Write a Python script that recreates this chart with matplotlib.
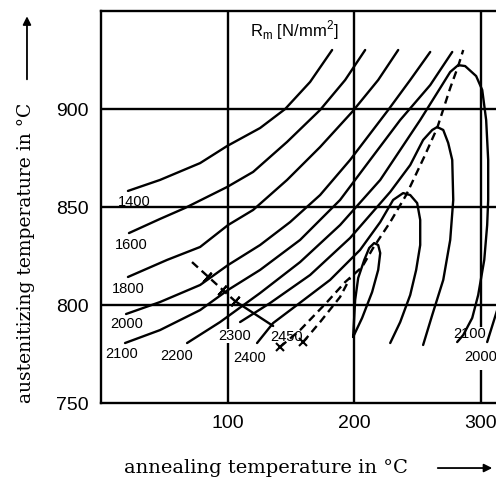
import matplotlib.pyplot as plt

# ── Isolines of tensile strength Rm [N/mm²] ───────────────────────────────────
# annealing temperature (x, °C) / austenitizing temperature (y, °C)
rm1400_x = [21.3, 46.6, 78.3, 99.6, 125.7, 145.5, 165.2, 182.6]
rm1400_y = [858.2, 863.8, 872.4, 881.1, 890.3, 900.0, 913.8, 930.1]

rm1600_x = [22.1, 46.6, 66.4, 99.6, 120.2, 147.0, 173.1, 192.9, 208.7]
rm1600_y = [836.7, 843.9, 849.5, 860.2, 867.9, 883.2, 899.5, 914.8, 930.1]

rm1800_x = [21.3, 52.2, 78.3, 100.4, 120.2, 147.0, 173.1, 198.4, 219.0, 234.8]
rm1800_y = [814.3, 823.0, 829.6, 840.8, 848.5, 863.8, 880.6, 898.5, 914.8, 930.1]

rm2000_x = [19.8, 46.6, 78.3, 100.4, 125.7, 149.4, 173.1, 196.8, 226.9, 244.3, 260.1]
rm2000_y = [795.4, 801.5, 810.2, 820.4, 830.6, 842.3, 856.1, 874.0, 899.5, 914.8, 929.1]

rm2100_x = [19.0, 46.6, 78.3, 100.4, 125.7, 157.3, 188.9, 212.6, 236.4, 260.1, 277.5]
rm2100_y = [780.6, 787.2, 797.4, 807.7, 817.9, 833.2, 853.6, 874.0, 894.4, 912.2, 929.1]

rm2200_x = [68.0, 94.1, 125.7, 157.3, 188.9, 220.6, 252.2, 268.0, 275.9, 282.2, 287.7,
            296.4, 301.2, 304.3, 305.9, 305.9, 305.1, 302.8, 298.0, 293.3, 286.2, 281.4]
rm2200_y = [780.6, 791.3, 806.1, 821.9, 840.8, 863.8, 894.4, 910.7, 918.9, 922.4, 921.9,
            916.8, 909.7, 894.4, 874.0, 853.6, 840.8, 823.0, 805.1, 793.4, 784.7, 781.1]

rm2300_x = [109.9, 133.6, 165.2, 196.8, 228.5, 244.3, 254.5, 261.7, 265.6, 270.4, 274.3,
            277.5, 278.3, 275.9, 270.4, 261.7, 254.5]
rm2300_y = [791.3, 801.0, 815.3, 834.2, 857.7, 871.4, 884.2, 889.3, 890.8, 889.3, 882.7,
            874.0, 853.6, 833.2, 812.8, 794.9, 779.6]

rm2400_x = [123.3, 136.0, 154.9, 181.0, 204.7, 220.6, 230.8, 238.7, 244.3, 249.8, 252.2,
            252.2, 249.0, 244.3, 236.4, 228.5]
rm2400_y = [780.6, 790.8, 800.0, 812.8, 828.1, 842.3, 853.6, 857.1, 856.1, 852.0, 843.4,
            830.6, 817.9, 805.1, 791.3, 780.6]

rm2450_x = [199.2, 200.8, 203.2, 208.0, 211.9, 215.8, 219.0, 220.6, 219.0, 214.2, 206.3, 199.2]
rm2450_y = [783.7, 802.6, 813.8, 823.0, 829.1, 831.6, 830.6, 826.5, 817.9, 806.6, 793.4, 783.7]

# right-hand branch of 2100 coming in from beyond the frame
rm2100r_x = [305.1, 313.0, 323.3, 331.2]
rm2100r_y = [781.1, 797.4, 828.1, 879.1]

# ridge (maximum) line, dashed
ridge_x = [141.5, 157.3, 178.6, 192.9, 206.3, 215.0, 228.5, 241.1, 255.3, 265.6, 275.9, 282.2, 286.2]
ridge_y = [778.6, 787.2, 801.5, 811.7, 819.4, 829.1, 842.3, 856.1, 875.5, 890.3, 910.7, 921.9, 930.1]

ridge2_x = [159.7, 173.1, 188.9, 196.8]
ridge2_y = [781.1, 791.3, 804.1, 813.8]
ridge_marks_x = [141.5, 159.7]
ridge_marks_y = [778.6, 781.1]

# boundary line lower left (dashed part, solid part, cross ticks)
bound_dash_x = [71.9, 105.9]
bound_dash_y = [821.9, 802.0]
bound_solid_x = [105.9, 136.0]
bound_solid_y = [802.0, 789.3]
bound_ticks_x = [83.8, 95.7, 105.9]
bound_ticks_y = [814.3, 807.7, 802.0]

# contour labels
lab_text = ["1400", "1600", "1800", "2000", "2100", "2200", "2300", "2400", "2450"]
lab_x = [26.1, 23.7, 21.3, 20.6, 16.6, 60.1, 105.9, 117.8, 147.0]
lab_y = [852.6, 830.6, 808.2, 790.3, 775.0, 774.0, 784.2, 773.0, 783.7]
rlab_text = ["2100", "2000"]
rlab_x = [290.9, 299.6]
rlab_y = [785.2, 773.5]

xticks = [100, 200, 300]
yticks = [750, 800, 850, 900]

# ── Figure ────────────────────────────────────────────────────────────────────
fig = plt.figure(figsize=(4.96, 4.83), dpi=100)
ax = fig.add_axes([101 / 496, 80 / 483, 443 / 496, 392 / 483])
ax.set_xlim(0, 350)
ax.set_ylim(750, 950)

LW = 1.7
for x in xticks:
    if x == 300:
        ax.plot([x, x], [750, 766.8], color="black", lw=LW, solid_capstyle="butt", zorder=1)
        ax.plot([x, x], [788.8, 950], color="black", lw=LW, solid_capstyle="butt", zorder=1)
    else:
        ax.axvline(x, color="black", lw=LW, zorder=1)
for y in yticks[1:]:
    ax.axhline(y, color="black", lw=LW, zorder=1)

curves = [(rm1400_x, rm1400_y), (rm1600_x, rm1600_y), (rm1800_x, rm1800_y),
          (rm2000_x, rm2000_y), (rm2100_x, rm2100_y), (rm2200_x, rm2200_y),
          (rm2300_x, rm2300_y), (rm2400_x, rm2400_y), (rm2450_x, rm2450_y),
          (rm2100r_x, rm2100r_y), (bound_solid_x, bound_solid_y)]
for cx, cy in curves:
    ax.plot(cx, cy, color="black", lw=LW, solid_joinstyle="round",
            solid_capstyle="round", zorder=3)

for cx, cy in [(ridge_x, ridge_y), (ridge2_x, ridge2_y), (bound_dash_x, bound_dash_y)]:
    ax.plot(cx, cy, color="black", lw=LW, ls=(0, (3.4, 2.1)), zorder=3)

ax.plot(ridge_marks_x, ridge_marks_y, ls="none", marker="x", ms=6, mew=1.5, color="black", zorder=4)
ax.plot(bound_ticks_x, bound_ticks_y, ls="none", marker=(2, 2, -42), ms=9, mew=1.5,
        color="black", zorder=4)

for t, x, y in zip(lab_text, lab_x, lab_y):
    kw = {}
    if t == "2300":
        kw["bbox"] = dict(facecolor="white", edgecolor="none", pad=0.2)
    ax.text(x, y, t, ha="center", va="center", fontsize=10.5,
            family="Liberation Sans", zorder=5, **kw)
for t, x, y in zip(rlab_text, rlab_x, rlab_y):
    ax.text(x, y, t, ha="center", va="center", fontsize=10.5,
            family="Liberation Sans", zorder=5)

ax.text(152.6, 940.3, r"R$_\mathregular{m}$ [N/mm$^\mathregular{2}$]", ha="center", va="center",
        fontsize=12, family="Liberation Sans")

ax.set_xticks(xticks)
ax.set_yticks(yticks)
ax.tick_params(length=0, labelsize=14, pad=9)
for lab in ax.get_xticklabels() + ax.get_yticklabels():
    lab.set_family("Liberation Sans")
for s in ax.spines.values():
    s.set_linewidth(LW)

fig.text(0.536, 0.031, "annealing temperature in °C", ha="center", va="center",
         fontsize=14, family="DejaVu Serif")
fig.text(0.052, 0.476, "austenitizing temperature in °C", ha="center", va="center",
         rotation=90, fontsize=13.5, family="DejaVu Serif")
ax.annotate("", xy=(0.998, 0.031), xytext=(0.877, 0.031), xycoords="figure fraction",
            arrowprops=dict(arrowstyle="-|>", color="black", lw=1.3, mutation_scale=12))
ax.annotate("", xy=(0.0544, 0.972), xytext=(0.0544, 0.830), xycoords="figure fraction",
            arrowprops=dict(arrowstyle="-|>", color="black", lw=1.3, mutation_scale=12))

fig.savefig("out.png", dpi=100)
